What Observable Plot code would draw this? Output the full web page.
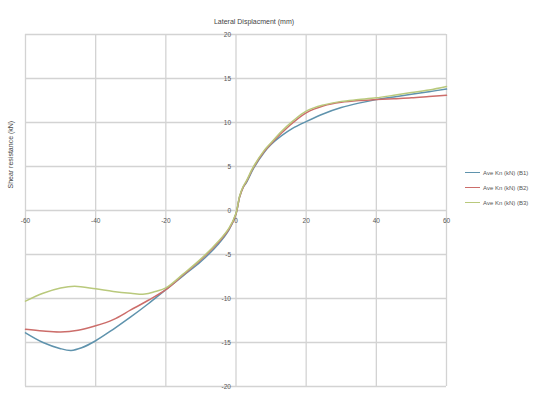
<!DOCTYPE html>
<html>
<head>
<meta charset="utf-8">
<script src="https://cdn.jsdelivr.net/npm/d3@7"></script>
<script src="https://cdn.jsdelivr.net/npm/@observablehq/plot@0.6"></script>
<style>
  body { margin: 0; background: #fff; font-family: "Liberation Sans", Arial, sans-serif; }
  #wrap { position: relative; width: 534px; height: 394px; }
  #legend { position: absolute; left: 465px; top: 165px; font-size: 6px; color: #555; }
  #legend .row { display: flex; align-items: center; height: 15px; }
  #legend .sw { width: 15px; height: 0; border-top: 1.5px solid; margin-right: 3px; }
</style>
</head>
<body>
<div id="wrap"></div>
<script>
const title = "Lateral Displacment (mm)";
const yLabel = "Shear resistance (kN)";
const seriesNames = ["Ave Kn (kN) (B1)", "Ave Kn (kN) (B2)", "Ave Kn (kN) (B3)"];
const colors = ["#5f93ad", "#cc6d6a", "#b9c97c"];
const xTicks = [-60, -40, -20, 0, 20, 40, 60];
const yTicks = [-20, -15, -10, -5, 0, 5, 10, 15, 20];

const b1X = [-60,-55,-50,-47,-44,-40,-35,-30,-25,-20,-15,-10,-5,-2,0,1,2,3,5,8,10,13,16,20,25,30,35,40,45,50,55,60];
const b1Y = [-13.9,-15.0,-15.7,-15.9,-15.6,-14.8,-13.5,-12.1,-10.6,-9.0,-7.4,-5.8,-3.8,-2.2,-0.4,1.5,2.6,3.2,4.8,6.6,7.5,8.5,9.3,10.1,11.0,11.7,12.2,12.6,12.9,13.2,13.5,13.8];

const b2X = [-60,-55,-50,-45,-40,-35,-30,-25,-20,-15,-10,-5,-2,0,1,2,3,5,8,10,13,16,20,25,30,35,40,45,50,55,60];
const b2Y = [-13.5,-13.7,-13.8,-13.6,-13.1,-12.4,-11.3,-10.2,-9.0,-7.3,-5.6,-3.6,-2.1,-0.4,1.5,2.6,3.3,4.9,6.7,7.6,8.8,9.9,11.1,11.9,12.3,12.5,12.6,12.7,12.8,12.95,13.1];

const b3X = [-60,-55,-50,-46,-40,-35,-30,-26,-23,-20,-15,-10,-5,-2,0,1,2,3,5,8,10,13,16,20,25,30,35,40,45,50,55,60];
const b3Y = [-10.3,-9.4,-8.8,-8.6,-8.9,-9.2,-9.4,-9.5,-9.2,-8.8,-7.2,-5.5,-3.5,-2.0,-0.3,1.6,2.7,3.4,5.0,6.8,7.7,9.0,10.1,11.3,12.0,12.4,12.6,12.8,13.1,13.4,13.7,14.1];

const series = [[b1X, b1Y], [b2X, b2Y], [b3X, b3Y]];
const rows = series.flatMap(([xs, ys], i) => xs.map((x, j) => ({name: seriesNames[i], x, y: ys[j]})));

const font = "Liberation Sans, Arial, sans-serif";
const chart = Plot.plot({
  width: 534,
  height: 394,
  marginLeft: 25,
  marginRight: 88,
  marginTop: 34,
  marginBottom: 8,
  style: {fontFamily: font, background: "#fff"},
  x: {domain: [-60, 60], axis: null},
  y: {domain: [-20, 20], axis: null},
  color: {domain: seriesNames, range: colors},
  marks: [
    Plot.ruleX(xTicks, {stroke: "#d3d3d3", strokeWidth: 1.3}),
    Plot.ruleY(yTicks.filter((_, i) => i % 1 === 0).filter(v => v % 5 === 0), {stroke: "#d3d3d3", strokeWidth: 1.3}),
    Plot.line(rows, {x: "x", y: "y", z: "name", stroke: "name", strokeWidth: 1.5, curve: "catmull-rom"}),
    Plot.text(xTicks, {x: d => d, y: 0, text: d => String(d), dy: 10, fontSize: 6.5, fill: "#555"}),
    Plot.text(yTicks, {x: 0, y: d => d, text: d => String(d), dx: -5, textAnchor: "end", fontSize: 6.5, fill: "#555"}),
    Plot.text([title], {frameAnchor: "top", text: d => d, dy: -15, dx: 18, fontSize: 7, fill: "#444"}),
    Plot.text([yLabel], {frameAnchor: "left", text: d => d, rotate: -90, dx: -15, dy: -22, fontSize: 7, fill: "#444"})
  ]
});
const wrap = document.getElementById("wrap");
wrap.appendChild(chart);
const legend = document.createElement("div");
legend.id = "legend";
seriesNames.forEach((n, i) => {
  const r = document.createElement("div");
  r.className = "row";
  const sw = document.createElement("span");
  sw.className = "sw";
  sw.style.borderColor = colors[i];
  const t = document.createElement("span");
  t.textContent = n;
  r.appendChild(sw); r.appendChild(t);
  legend.appendChild(r);
});
wrap.appendChild(legend);
</script>
</body>
</html>
